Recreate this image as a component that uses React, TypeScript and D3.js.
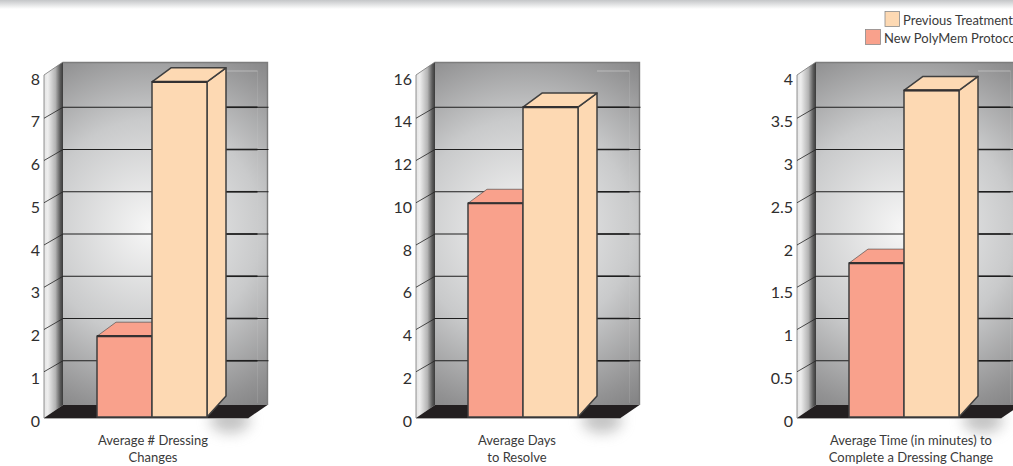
import React from "react";
import * as d3 from "d3";

const W = 1013, H = 466;
const panelTitles = [
  ["Average # Dressing", "Changes"],
  ["Average Days", "to Resolve"],
  ["Average Time (in minutes) to", "Complete a Dressing Change"],
];
const axisMax = [8, 16, 4];
const tickSteps = [1, 2, 0.5];
const newProtocol = [1.89, 10, 1.8];
const previous = [7.84, 14.5, 3.82];
const seriesNames = ["Previous Treatment", "New PolyMem Protocol"];
const panelLeft = [44, 416, 797];
const titleCenter = [153, 517, 911];
const barShift = [0, -1, -1];

const PEACH = "#fdd9b3", SALMON = "#f9a18c", INK = "#333132";
const FONT = "Lato, 'Open Sans', sans-serif";
const dx = 19, wallW = 204.5, floorY = 418, topY = 75;

function poly(p: number[][]) { return "M" + p.map(q => q.join(",")).join("L") + "Z"; }

function Panel({ i }: { i: number }) {
  const x0 = panelLeft[i];
  const max = axisMax[i];
  const front = d3.scaleLinear().domain([0, max]).range([417, 75]);
  const back = d3.scaleLinear().domain([0, max]).range([403, 65]);
  const label = d3.scaleLinear().domain([0, max]).range([422.5, 80.5]);
  const ticks = d3.range(0, max + 1e-6, tickSteps[i]);
  const band = d3.scaleBand().domain(["new", "prev"]).range([x0 + 53 + barShift[i], x0 + 163 + barShift[i]]);
  const bw = band.bandwidth();
  const bars = [
    { k: "new", v: newProtocol[i], c: SALMON },
    { k: "prev", v: previous[i], c: PEACH },
  ];
  const bx = x0 + dx, wx = x0 + dx + wallW;
  const peachRight = (band("prev") as number) + bw + dx;
  return (
    <g>
      <ellipse cx={x0 + 186} cy={420} rx={20} ry={13} fill="#8a8a8a" opacity={0.5} filter="url(#blur)" />
      <rect x={bx} y={62} width={wallW} height={343} fill={`url(#wall${i})`} />
      <path d={`M${bx},62.5H${wx}V405`} fill="none" stroke="#7d7d7d" strokeWidth={1.4} />
      <path d={poly([[x0, topY], [bx, 62], [bx, 405], [x0, floorY]])} fill={`url(#side${i})`} />
      <path d={`M${x0},${floorY}V${topY}L${bx},62`} fill="none" stroke="#777" strokeWidth={0.8} />
      <path d={poly([[x0, floorY], [bx, 405], [wx, 405], [wx - dx, floorY]])} fill="#231f20" />
      <path d={`M${x0},${floorY + 0.5}H${wx - dx}`} stroke="#aaa" strokeWidth={1} />
      <path d={`M${peachRight},71H${wx - 10}`} fill="none" stroke="#d8d8d8" strokeWidth={0.7} opacity={0.8} />
      <path d={`M${wx - 10},71V${back(0)}`} fill="none" stroke="#d0d0d0" strokeWidth={0.5} opacity={0.35} />
      {ticks.slice(1, -1).map(t => (
        <g key={t}>
          <line x1={bx} x2={wx + 1} y1={back(t)} y2={back(t)} stroke="#1e1e1e" strokeWidth={1} />
          <line x1={peachRight} x2={wx - 10} y1={back(t)} y2={back(t)} stroke="#1e1e1e" strokeWidth={1.6} />
          <line x1={x0} x2={bx} y1={back(t) + 11} y2={back(t)} stroke="#222" strokeWidth={0.8} />
        </g>
      ))}
      {bars.map(b => {
        const x = band(b.k) as number, y = front(b.v);
        return (
          <g key={b.k}>
            <path d={poly([[x + bw, y], [x + bw + dx, y - 14], [x + bw + dx, 417 - 21], [x + bw, 417]])} fill={b.c} stroke="#3f3f3f" strokeWidth={1.5} strokeLinejoin="round" />
            <path d={poly([[x, y], [x + dx, y - 14], [x + bw + dx, y - 14], [x + bw, y]])} fill={b.c} stroke="#3f3f3f" strokeWidth={b.k === "prev" ? 1.5 : 0.6} strokeLinejoin="round" />
            <rect x={x} y={y} width={bw} height={417 - y} fill={b.c} stroke="#3f3f3f" strokeWidth={1.5} />
            <line x1={x} x2={x + bw} y1={y} y2={y} stroke={INK} strokeWidth={2.2} />
          </g>
        );
      })}
      {ticks.map(t => (
        <text key={t} x={x0 - 4} y={label(t)} textAnchor="end" dominantBaseline="middle" fontSize={16} fill="#2f2e2e" fontFamily={FONT}>{t}</text>
      ))}
      {panelTitles[i].map((s, j) => (
        <text key={j} x={titleCenter[i]} y={445 + j * 17} textAnchor="middle" fontSize={13} fill="#3a3a3a" fontFamily={FONT}>{s}</text>
      ))}
    </g>
  );
}

export default function App() {
  return (
    <svg width={W} height={H} style={{ position: "fixed", left: 0, top: 0, background: "#fff" }}>
      <defs>
        <linearGradient id="topShade" x1="0" x2="0" y1="0" y2="1">
          <stop offset="0" stopColor="#c4c6c8" />
          <stop offset="1" stopColor="#ffffff" />
        </linearGradient>
        <filter id="blur" x="-80%" y="-80%" width="260%" height="260%"><feGaussianBlur stdDeviation="7" /></filter>
        {panelLeft.map((x, i) => (
          <React.Fragment key={i}>
            <radialGradient id={`wall${i}`} gradientUnits="userSpaceOnUse" cx={x + 108} cy={228} r={218}>
              <stop offset="0" stopColor="#f7f7f7" />
              <stop offset="0.5" stopColor="#c9cacb" />
              <stop offset="0.85" stopColor="#929293" />
              <stop offset="1" stopColor="#7e7e7f" />
            </radialGradient>
            <linearGradient id={`side${i}`} gradientUnits="userSpaceOnUse" x1={x} x2={x + 19} y1={0} y2={0}>
              <stop offset="0" stopColor="#e4e4e4" />
              <stop offset="0.2" stopColor="#eeeeee" />
              <stop offset="0.6" stopColor="#b4b4b4" />
              <stop offset="0.85" stopColor="#5c5c5c" />
              <stop offset="1" stopColor="#3a3a3a" />
            </linearGradient>
          </React.Fragment>
        ))}
      </defs>
      <rect x={0} y={0} width={W} height={9} fill="url(#topShade)" />
      {panelLeft.map((_, i) => <Panel key={i} i={i} />)}
      <rect x={885} y={11.5} width={14.5} height={15} fill={PEACH} stroke="#8a8a8a" strokeWidth={0.8} />
      <rect x={865.5} y={29.5} width={15} height={15} fill={SALMON} stroke="#8a8a8a" strokeWidth={0.8} />
      <text x={903} y={25} fontSize={13} fill="#3a3a3a" fontFamily={FONT}>{seriesNames[0]}</text>
      <text x={884} y={43} fontSize={13} fill="#3a3a3a" fontFamily={FONT}>{seriesNames[1]}</text>
    </svg>
  );
}
